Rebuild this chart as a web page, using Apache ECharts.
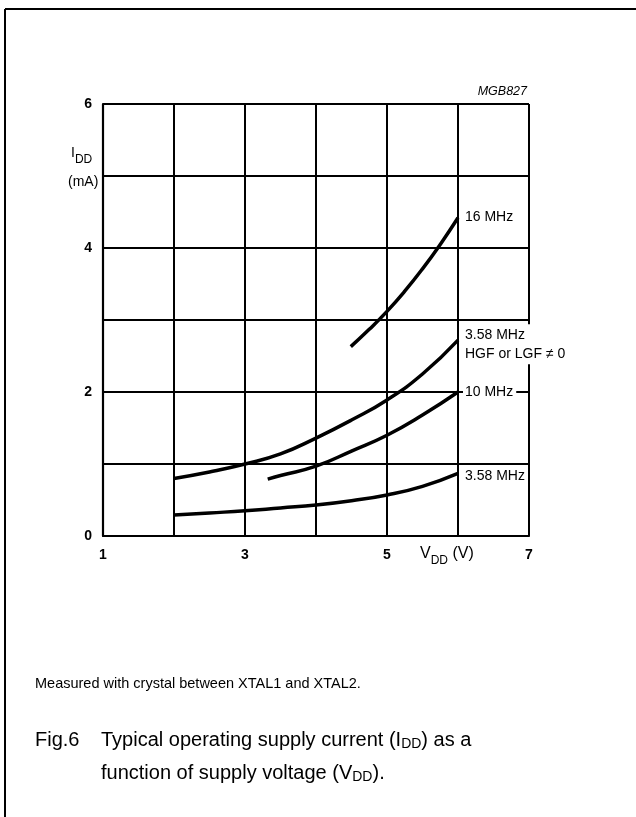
<!DOCTYPE html>
<html>
<head>
<meta charset="utf-8">
<script src="https://cdn.jsdelivr.net/npm/echarts@6/dist/echarts.min.js"></script>
<style>
html,body{margin:0;padding:0;background:#fff;}
#c{width:636px;height:817px;}
</style>
</head>
<body>
<div id="c"></div>
<script>
// Supply voltage V_DD (V) and supply current I_DD (mA)
var v358 = [2, 2.5, 3, 3.5, 4, 4.5, 5, 5.5, 6];
var i358 = [0.29, 0.32, 0.35, 0.39, 0.43, 0.49, 0.57, 0.69, 0.87];

var vHGF = [2, 2.5, 3, 3.5, 4, 4.5, 5, 5.5, 6];
var iHGF = [0.80, 0.89, 1.00, 1.14, 1.36, 1.61, 1.89, 2.25, 2.72];

var v10 = [3.32, 3.5, 4, 4.5, 5, 5.5, 6];
var i10 = [0.79, 0.84, 0.97, 1.18, 1.40, 1.68, 2.0];

var v16 = [4.49, 4.75, 5, 5.25, 5.5, 5.75, 6];
var i16 = [2.63, 2.87, 3.12, 3.40, 3.71, 4.05, 4.42];

var xTickLabels = ['1', '3', '5', '7'];
var yTickLabels = ['0', '2', '4', '6'];

var seriesNames = ['3.58 MHz', '3.58 MHz\nHGF or LGF \u2260 0', '10 MHz', '16 MHz'];

function pairs(xs, ys) { return xs.map(function (x, i) { return [x, ys[i]]; }); }

var FONT = '"Liberation Sans", Arial, Helvetica, sans-serif';
var chart = echarts.init(document.getElementById('c'), null, {renderer: 'canvas'});

function mkSeries(name, xs, ys, dy) {
  return {
    type: 'line', name: name, data: pairs(xs, ys), smooth: true,
    symbol: 'none', silent: true, z: 5,
    lineStyle: {color: '#000', width: 3.5, cap: 'butt'},
    endLabel: {
      show: true, formatter: name, color: '#000', fontFamily: FONT, fontSize: 14,
      backgroundColor: '#fff', padding: [1, 3, 1, 2], distance: 5, lineHeight: 19,
      offset: [0, dy || 0]
    }
  };
}

var option = {
  animation: false,
  backgroundColor: '#fff',
  grid: {left: 103, right: 107, top: 104, bottom: 281, containLabel: false},
  xAxis: {
    type: 'value', min: 1, max: 7, interval: 1,
    axisLine: {show: true, onZero: false, lineStyle: {color: '#000', width: 2.2}},
    axisTick: {show: false},
    splitLine: {show: true, lineStyle: {color: '#000', width: 2}},
    axisLabel: {
      color: '#000', fontFamily: FONT, fontWeight: 'bold', fontSize: 14, margin: 12,
      formatter: function (v) { var s = String(v); return xTickLabels.indexOf(s) >= 0 ? s : ''; }
    }
  },
  yAxis: {
    type: 'value', min: 0, max: 6, interval: 1,
    axisLine: {show: true, onZero: false, lineStyle: {color: '#000', width: 2.2}},
    axisTick: {show: false},
    splitLine: {show: true, lineStyle: {color: '#000', width: 2}},
    axisLabel: {
      color: '#000', fontFamily: FONT, fontWeight: 'bold', fontSize: 14, margin: 11,
      formatter: function (v) { var s = String(v); return yTickLabels.indexOf(s) >= 0 ? s : ''; }
    }
  },
  series: [
    mkSeries(seriesNames[0], v358, i358, 3),
    mkSeries(seriesNames[1], vHGF, iHGF, 4),
    mkSeries(seriesNames[2], v10, i10, 0),
    mkSeries(seriesNames[3], v16, i16, -1)
  ],
  graphic: [
    {type: 'line', shape: {x1: 5, y1: 9, x2: 636, y2: 9}, style: {stroke: '#000', lineWidth: 2}},
    {type: 'line', shape: {x1: 5, y1: 9, x2: 5, y2: 817}, style: {stroke: '#000', lineWidth: 2}},
    {type: 'text', right: 636 - 527, top: 85, style: {text: 'MGB827', font: 'italic 12.5px ' + FONT, fill: '#000'}},
    {type: 'text', left: 71, top: 146, style: {
      text: '{a|I}{s|DD}', fill: '#000',
      rich: {
        a: {fontFamily: FONT, fontSize: 14, padding: [0, 0, 7, 0]},
        s: {fontFamily: FONT, fontSize: 12, padding: [7, 0, 0, 0]}
      }
    }},
    {type: 'text', left: 68, top: 175, style: {text: '(mA)', font: '14px ' + FONT, fill: '#000'}},
    {type: 'text', left: 420, top: 546, style: {
      text: '{a|V}{s|DD}{a| (V)}', fill: '#000',
      rich: {
        a: {fontFamily: FONT, fontSize: 16, padding: [0, 0, 7, 0]},
        s: {fontFamily: FONT, fontSize: 12, padding: [7, 0, 0, 0]}
      }
    }},
    {type: 'text', left: 35, top: 676, style: {text: 'Measured with crystal between XTAL1 and XTAL2.', font: '14.5px ' + FONT, fill: '#000'}},
    {type: 'text', left: 35, top: 730, style: {
      text: '{a|Fig.6}', fill: '#000',
      rich: {a: {fontFamily: FONT, fontSize: 20, lineHeight: 33, padding: [0, 0, 4, 0]}}
    }},
    {type: 'text', left: 101, top: 730, style: {
      text: '{a|Typical operating supply current (I}{s|DD}{a|) as a}\n{a|function of supply voltage (V}{s|DD}{a|).}', fill: '#000',
      rich: {
        a: {fontFamily: FONT, fontSize: 20, lineHeight: 33, padding: [0, 0, 4, 0]},
        s: {fontFamily: FONT, fontSize: 14, lineHeight: 33, padding: [5, 0, 0, 0]}
      }
    }}
  ]
};
chart.setOption(option);
</script>
</body>
</html>
